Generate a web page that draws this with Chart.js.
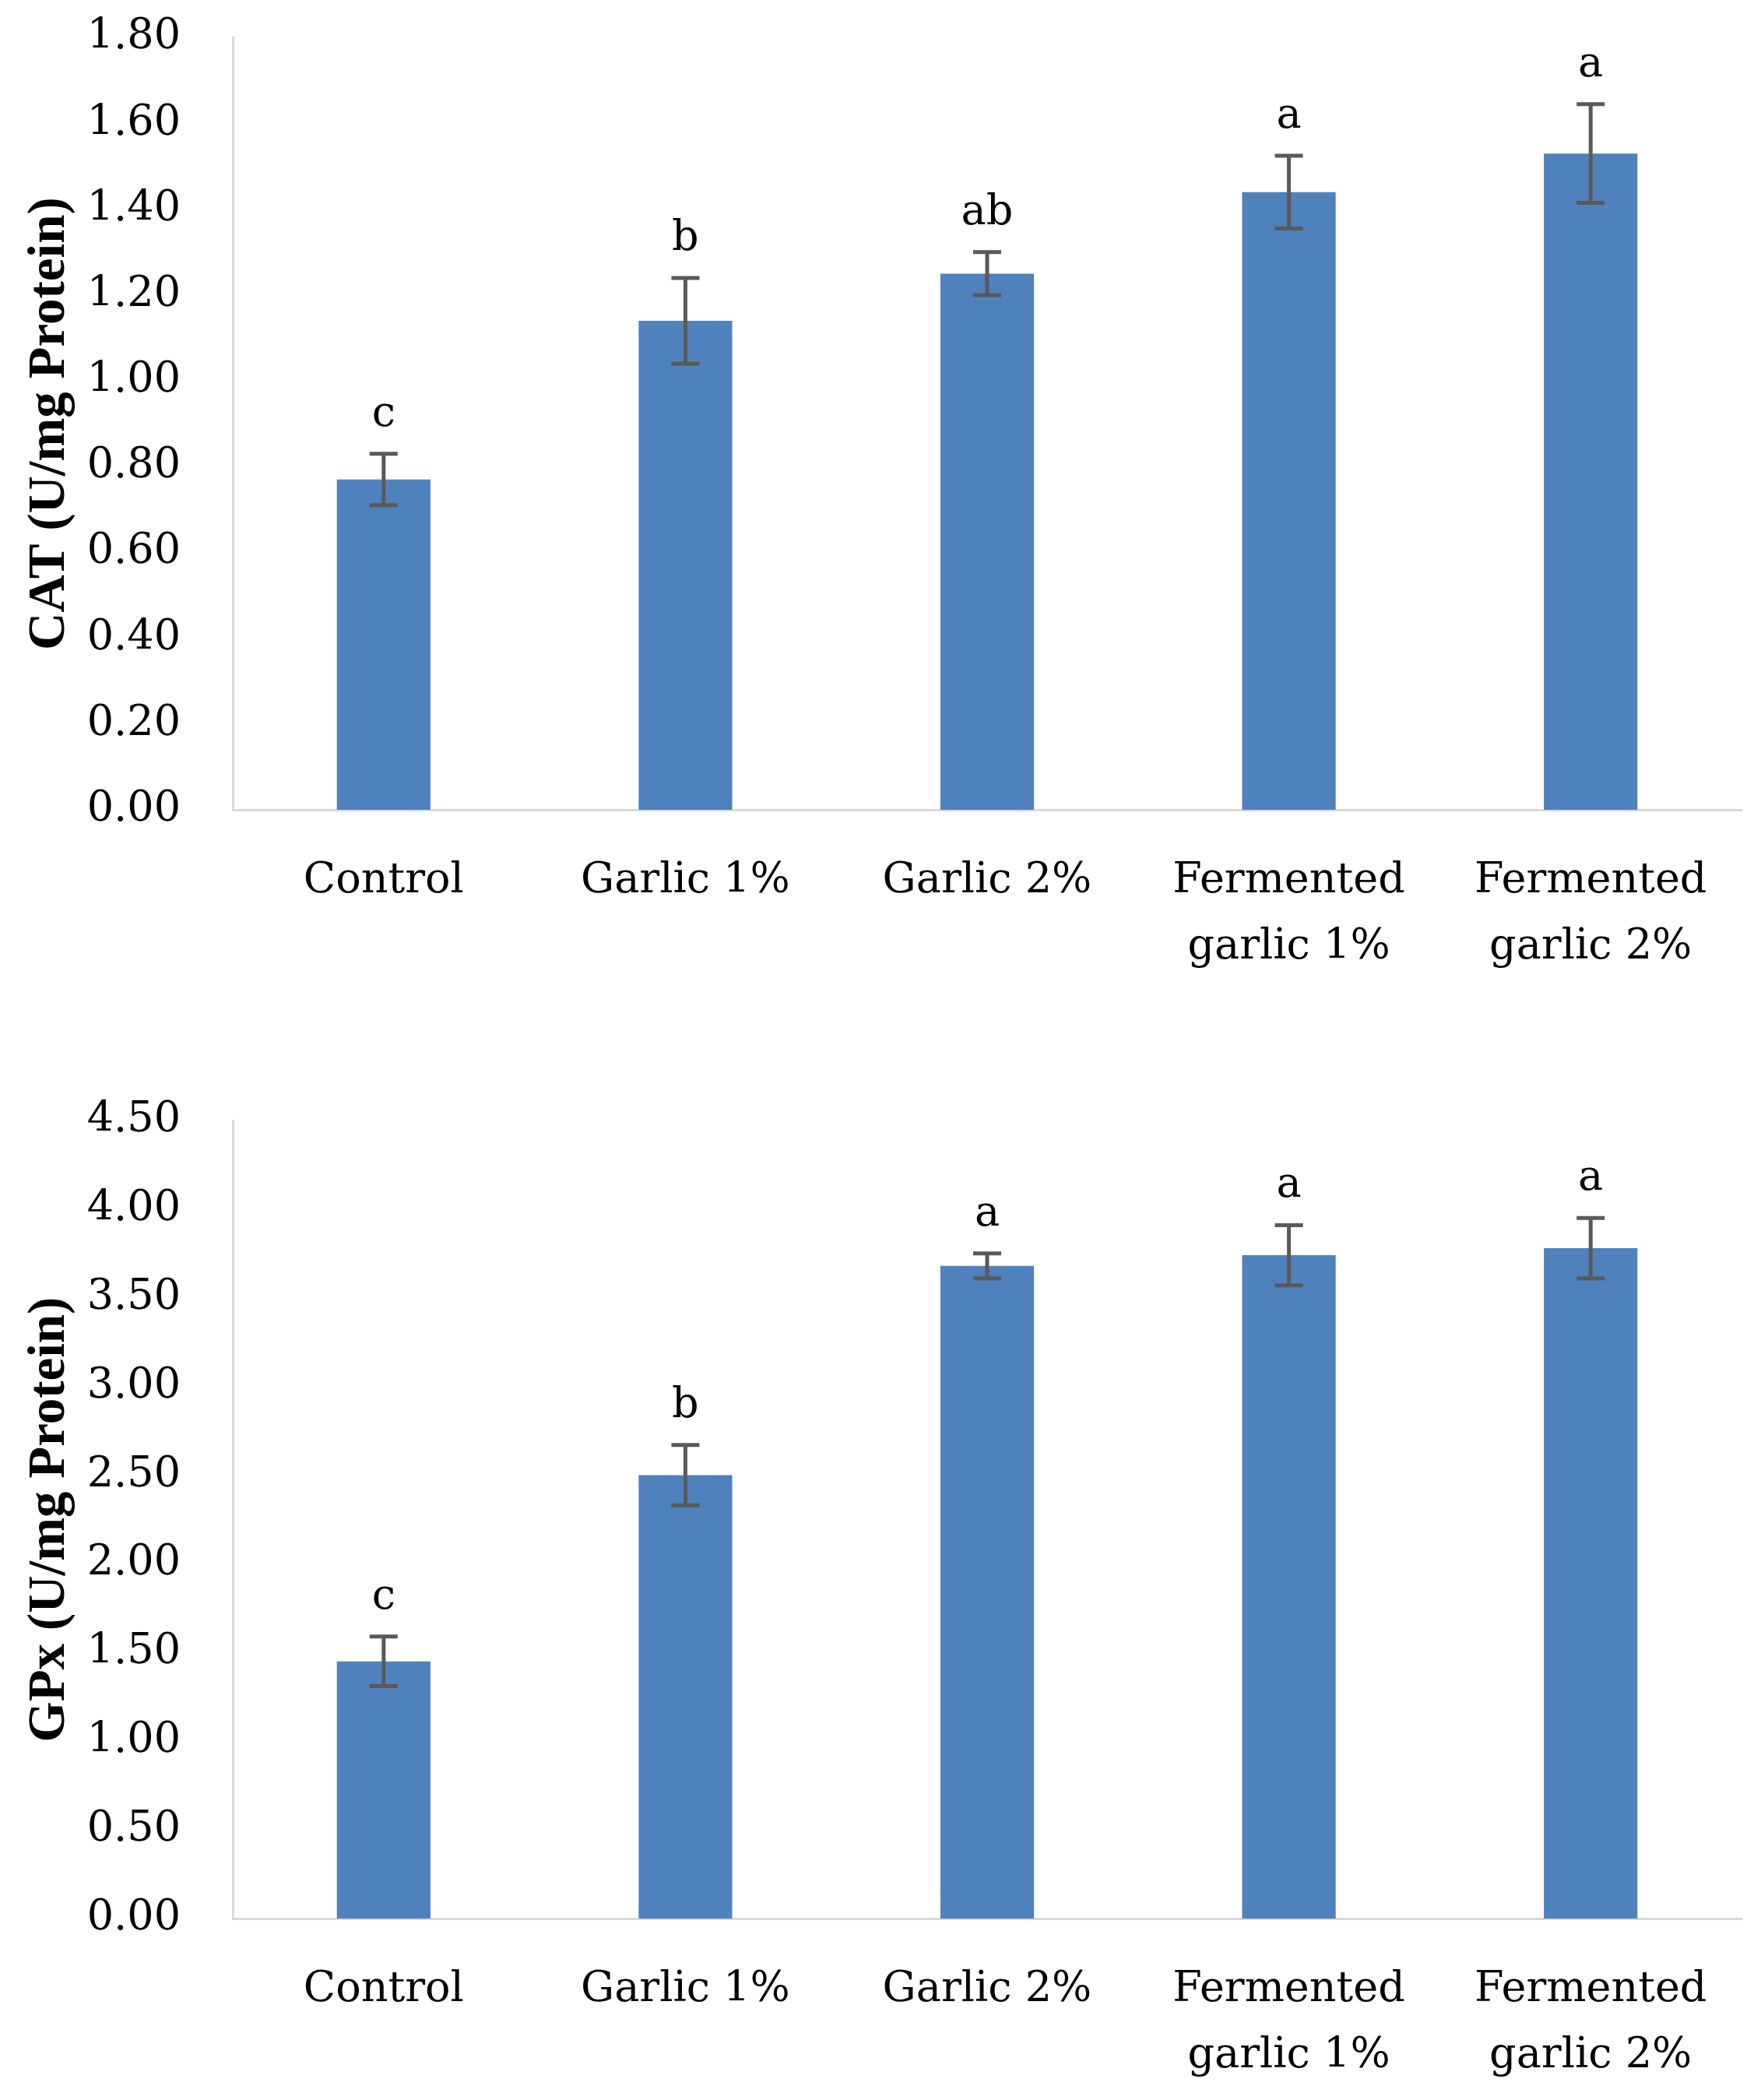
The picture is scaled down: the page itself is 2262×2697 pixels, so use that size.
<!DOCTYPE html>
<html>
<head>
<meta charset="utf-8">
<script src="https://cdn.jsdelivr.net/npm/chart.js@4.4.1/dist/chart.umd.min.js"></script>
<style>
  html, body { margin: 0; padding: 0; background: #ffffff; }
  body { width: 2262px; height: 2697px; position: relative; overflow: hidden; }
  canvas { position: absolute; left: 0; }
  /* canvas shifted up so the y tick padding does not push the plot down */
  #catChart { top: -51px; }
  #gpxChart { top: 1290px; }
</style>
</head>
<body>
<canvas id="catChart" width="2262" height="1338"></canvas>
<canvas id="gpxChart" width="2262" height="1398"></canvas>
<script>
// data
const categories = ['Control', 'Garlic 1%', 'Garlic 2%', ['Fermented', 'garlic 1%'], ['Fermented', 'garlic 2%']];

const catValues = [0.77, 1.14, 1.25, 1.44, 1.53];
const catErrors = [0.06, 0.10, 0.05, 0.085, 0.115];
const catLetters = ['c', 'b', 'ab', 'a', 'a'];

const gpxValues = [1.45, 2.50, 3.68, 3.74, 3.78];
const gpxErrors = [0.14, 0.17, 0.07, 0.17, 0.17];
const gpxLetters = ['c', 'b', 'a', 'a', 'a'];

const barColor = '#4f81bd';
const errColor = '#595959';
const axisColor = '#d9d9d9';
const textFont = "'DejaVu Serif', serif";
const titleFont = "'Liberation Serif', serif";

// error bars + significance letters on top of each bar
const errorBarPlugin = {
  id: 'errorBars',
  afterDatasetsDraw(chart, args, opts) {
    const { ctx } = chart;
    const y = chart.scales.y;
    const meta = chart.getDatasetMeta(0);
    ctx.save();
    meta.data.forEach((bar, i) => {
      const v = opts.values[i];
      const e = opts.errors[i];
      const yTop = y.getPixelForValue(v + e);
      const yBot = y.getPixelForValue(v - e);
      ctx.strokeStyle = errColor;
      ctx.lineWidth = 5;
      ctx.beginPath();
      ctx.moveTo(bar.x, yTop); ctx.lineTo(bar.x, yBot);
      ctx.moveTo(bar.x - 18, yTop); ctx.lineTo(bar.x + 18, yTop);
      ctx.moveTo(bar.x - 18, yBot); ctx.lineTo(bar.x + 18, yBot);
      ctx.stroke();

      ctx.fillStyle = '#000000';
      ctx.font = '54px ' + textFont;
      ctx.textAlign = 'center';
      ctx.textBaseline = 'alphabetic';
      ctx.fillText(opts.letters[i], bar.x, yTop - 36);
    });
    ctx.restore();
  }
};

function makeChart(id, values, errors, letters, yMax, yStep, yTitle, topPad, xHeight) {
  return new Chart(document.getElementById(id), {
    type: 'bar',
    data: {
      labels: categories,
      datasets: [{
        data: values,
        backgroundColor: barColor,
        borderWidth: 0,
        barPercentage: 0.31,
        categoryPercentage: 1.0
      }]
    },
    options: {
      responsive: false,
      animation: false,
      devicePixelRatio: 1,
      layout: { padding: { top: topPad, right: 25, left: 0, bottom: 0 } },
      plugins: {
        legend: { display: false },
        tooltip: { enabled: false },
        errorBars: { values: values, errors: errors, letters: letters }
      },
      scales: {
        x: {
          grid: { display: false, drawTicks: false },
          border: { display: true, color: axisColor, width: 3 },
          ticks: {
            color: '#000000',
            padding: 49,
            maxRotation: 0,
            autoSkip: false,
            font: { family: textFont, size: 54, lineHeight: 1.58 }
          },
          afterFit(scale) { scale.height = xHeight; }
        },
        y: {
          min: 0,
          max: yMax,
          grid: { display: false, drawTicks: false },
          border: { display: true, color: axisColor, width: 3 },
          ticks: {
            stepSize: yStep,
            color: '#000000',
            padding: 67,
            font: { family: textFont, size: 54 },
            callback: (val) => Number(val).toFixed(2)
          },
          title: {
            display: true,
            text: yTitle,
            color: '#000000',
            padding: { top: 24, bottom: 0 },
            font: { family: titleFont, size: 67, weight: 'bold', lineHeight: 1.2 }
          },
          afterFit(scale) { scale.width = 299; }
        }
      }
    },
    plugins: [errorBarPlugin]
  });
}

makeChart('catChart', catValues, catErrors, catLetters, 1.8, 0.2, 'CAT (U/mg Protein)', 99, 247);
makeChart('gpxChart', gpxValues, gpxErrors, gpxLetters, 4.5, 0.5, 'GPx (U/mg Protein)', 149, 224);
</script>
</body>
</html>
